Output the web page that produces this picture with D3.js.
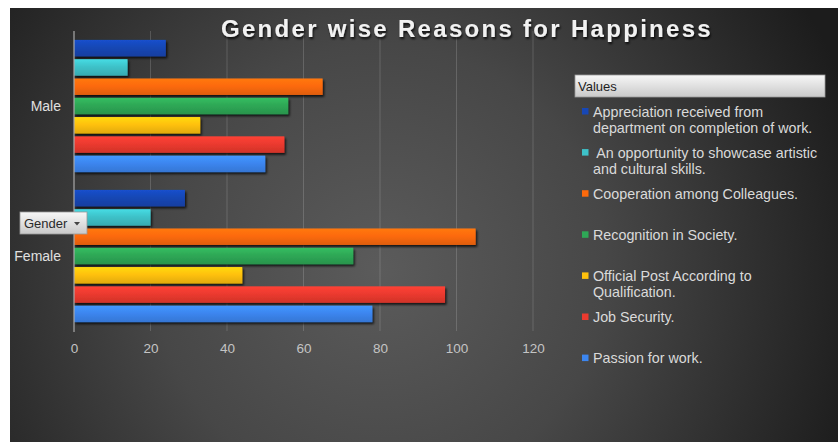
<!DOCTYPE html>
<html>
<head>
<meta charset="utf-8">
<script src="https://cdn.jsdelivr.net/npm/d3@7"></script>
<style>
  html, body { margin: 0; padding: 0; background: #ffffff; }
  svg { display: block; }
  text { font-family: "Liberation Sans", Arial, sans-serif; }
</style>
</head>
<body>
<svg id="chart" width="838" height="442"></svg>
<script>
// Survey results: reasons for happiness at work, by gender
const genders = ["Male", "Female"];
const reasons = [
  "Appreciation received from\ndepartment on completion of work.",
  " An opportunity to showcase artistic\nand cultural skills.",
  "Cooperation among Colleagues.",
  "Recognition in Society.",
  "Official Post According to\nQualification.",
  "Job Security.",
  "Passion for work."
];
const maleValues = [24, 14, 65, 56, 33, 55, 50];
const femaleValues = [29, 20, 105, 73, 44, 97, 78];
const reasonColors = ["#1747b5", "#3ec2c9", "#fd6a0c", "#2ea856", "#ffc10d", "#ec3a2f", "#3c86f0"];
const xTicks = [0, 20, 40, 60, 80, 100, 120];
const titleText = "Gender wise Reasons for Happiness";

const valuesByGender = { Male: maleValues, Female: femaleValues };

const svg = d3.select("#chart");
const defs = svg.append("defs");

// Dark vignette backdrop
const bg = defs.append("radialGradient").attr("id", "bg")
  .attr("gradientUnits", "userSpaceOnUse")
  .attr("cx", 380).attr("cy", 270).attr("r", 500);
bg.append("stop").attr("offset", 0).attr("stop-color", "#5b5b5b");
bg.append("stop").attr("offset", 0.45).attr("stop-color", "#474747");
bg.append("stop").attr("offset", 1).attr("stop-color", "#1c1c1c");

svg.append("rect").attr("x", 10).attr("y", 8).attr("width", 828).attr("height", 434)
  .attr("fill", "url(#bg)");

// Bar shading and drop shadow
reasonColors.forEach((c, i) => {
  const g = defs.append("linearGradient").attr("id", "bar" + i)
    .attr("x1", 0).attr("y1", 0).attr("x2", 0).attr("y2", 1);
  const base = d3.color(c);
  g.append("stop").attr("offset", 0).attr("stop-color", base.brighter(0.35));
  g.append("stop").attr("offset", 0.45).attr("stop-color", base);
  g.append("stop").attr("offset", 1).attr("stop-color", base.darker(0.35));
});
const sh = defs.append("filter").attr("id", "shadow")
  .attr("x", "-5%").attr("y", "-30%").attr("width", "115%").attr("height", "180%");
sh.append("feDropShadow").attr("dx", 1.5).attr("dy", 2).attr("stdDeviation", 1.2)
  .attr("flood-color", "#000").attr("flood-opacity", 0.75);

const titleShadow = defs.append("filter").attr("id", "tshadow")
  .attr("x", "-5%").attr("y", "-30%").attr("width", "110%").attr("height", "170%");
titleShadow.append("feDropShadow").attr("dx", 1).attr("dy", 2).attr("stdDeviation", 1.2)
  .attr("flood-color", "#000").attr("flood-opacity", 0.8);

const btnGrad = defs.append("linearGradient").attr("id", "btn")
  .attr("x1", 0).attr("y1", 0).attr("x2", 0).attr("y2", 1);
btnGrad.append("stop").attr("offset", 0).attr("stop-color", "#f7f7f7");
btnGrad.append("stop").attr("offset", 1).attr("stop-color", "#c9c9c9");

// Scales
const x = d3.scaleLinear().domain([0, 120]).range([74, 533]);
const y = d3.scaleBand().domain(genders).range([31, 331]).padding(0);
const yInner = d3.scaleBand().domain(d3.range(reasons.length))
  .range([0, y.bandwidth()]).paddingInner(0.145).paddingOuter(0.46);

// Vertical gridlines
svg.append("g").selectAll("line")
  .data(xTicks.filter(t => t > 0))
  .join("line")
  .attr("x1", d => x(d)).attr("x2", d => x(d))
  .attr("y1", 31).attr("y2", 331)
  .attr("stroke", "#ffffff").attr("stroke-opacity", 0.16).attr("stroke-width", 1);

// Value axis labels
const xAxis = svg.append("g").attr("transform", "translate(0,331)")
  .call(d3.axisBottom(x).tickValues(xTicks).tickSize(0).tickPadding(12));
xAxis.select(".domain").remove();
xAxis.selectAll("text").attr("fill", "#c4c4c4").attr("font-size", 13.5)
  .attr("font-family", "Liberation Sans, Arial, sans-serif");

// Bars
const groups = svg.append("g").selectAll("g")
  .data(genders)
  .join("g")
  .attr("transform", d => `translate(0,${y(d)})`);

groups.selectAll("rect")
  .data(g => valuesByGender[g].map((v, i) => ({ v, i })))
  .join("rect")
  .attr("x", x(0))
  .attr("y", d => yInner(d.i))
  .attr("width", d => x(d.v) - x(0))
  .attr("height", yInner.bandwidth())
  .attr("fill", d => `url(#bar${d.i})`)
  .attr("filter", "url(#shadow)");

// Category axis line and labels
svg.append("line").attr("x1", x(0)).attr("x2", x(0)).attr("y1", 31).attr("y2", 332)
  .attr("stroke", "#a9a9a9").attr("stroke-width", 1.2);

svg.append("g").selectAll("text")
  .data(genders)
  .join("text")
  .attr("x", 61)
  .attr("y", d => y(d) + y.bandwidth() / 2)
  .attr("dy", "0.35em")
  .attr("text-anchor", "end")
  .attr("fill", "#e0e0e0")
  .attr("font-size", 14)
  .text(d => d);

// Title
svg.append("text")
  .attr("x", 467).attr("y", 37)
  .attr("text-anchor", "middle")
  .attr("fill", "#f2f2f2")
  .attr("font-size", 24)
  .attr("font-weight", "bold")
  .attr("letter-spacing", 2.3)
  .attr("filter", "url(#tshadow)")
  .text(titleText);

// Field button for the row field
const gBtn = svg.append("g").attr("transform", "translate(20,212)");
gBtn.append("rect").attr("width", 67).attr("height", 22)
  .attr("fill", "url(#btn)").attr("stroke", "#9a9a9a").attr("stroke-width", 0.8);
gBtn.append("text").attr("x", 4).attr("y", 11).attr("dy", "0.35em")
  .attr("fill", "#2a2a2a").attr("font-size", 13)
  .attr("font-family", "Liberation Sans Narrow, Open Sans, sans-serif")
  .text("Gender");
gBtn.append("path").attr("d", "M54,10 L60,10 L57,13.5 Z").attr("fill", "#444");

// Legend header
const lg = svg.append("g");
lg.append("rect").attr("x", 575).attr("y", 75).attr("width", 250).attr("height", 22)
  .attr("fill", "url(#btn)").attr("stroke", "#9a9a9a").attr("stroke-width", 0.8);
lg.append("text").attr("x", 578).attr("y", 86).attr("dy", "0.35em")
  .attr("fill", "#1e1e1e").attr("font-size", 13)
  .attr("font-family", "Liberation Sans Narrow, Open Sans, sans-serif")
  .text("Values");

// Legend entries
const legendStep = 41.1;
const item = lg.selectAll("g.item")
  .data(reasons)
  .join("g").attr("class", "item")
  .attr("transform", (d, i) => `translate(0,${111.5 + i * legendStep})`);

item.append("rect").attr("x", 582).attr("y", -3.5).attr("width", 6.5).attr("height", 6.5)
  .attr("fill", (d, i) => reasonColors[i]);

item.append("text")
  .attr("fill", "#dadada")
  .attr("font-size", 14.3)
  .style("white-space", "pre")
  .selectAll("tspan")
  .data(d => d.split("\n"))
  .join("tspan")
  .attr("x", 593)
  .attr("y", (d, j) => j * 16.5)
  .attr("dy", "0.35em")
  .text(d => d);
</script>
</body>
</html>
